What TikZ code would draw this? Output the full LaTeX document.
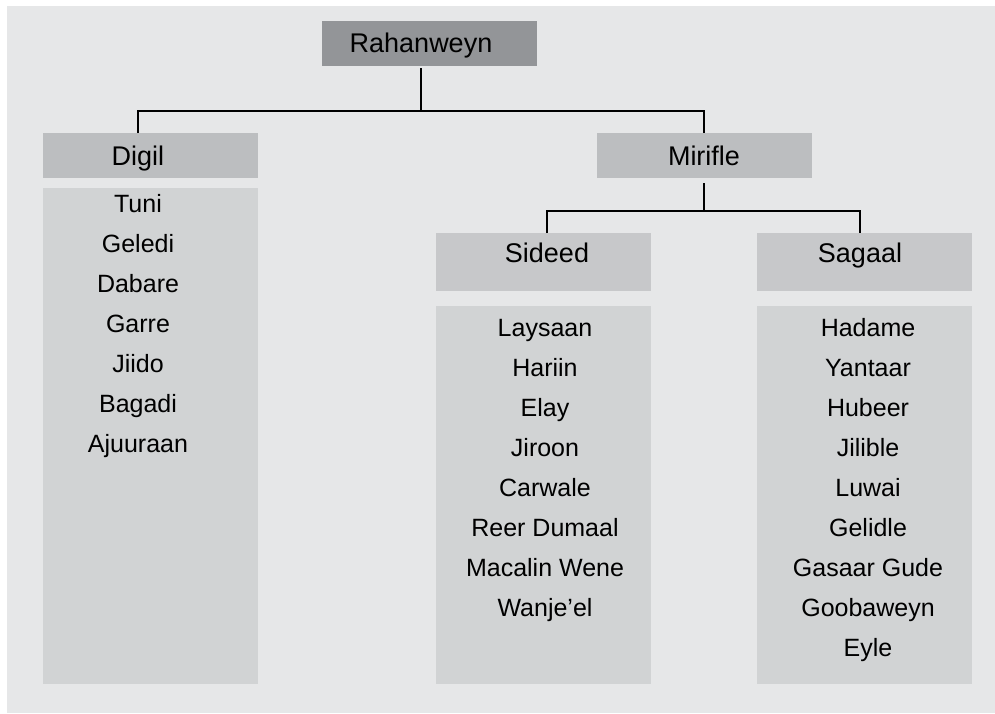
\documentclass[tikz,border=0pt]{standalone}
\usepackage{fontspec}
\setmainfont{Liberation Sans}
\usepackage{tikz}

\definecolor{panelgray}{HTML}{E6E7E8}
\definecolor{topgray}{HTML}{939598}
\definecolor{headgray}{HTML}{BCBEC0}
\definecolor{subgray}{HTML}{C7C8CA}
\definecolor{listgray}{HTML}{D1D3D4}

\begin{document}
\begin{tikzpicture}[x=1pt,y=-1pt,
    box/.style={anchor=north west,inner sep=0pt,outer sep=0pt},
    head/.style={anchor=base,inner sep=0pt,font=\fontsize{27}{32}\selectfont},
    item/.style={anchor=base,inner sep=0pt,font=\fontsize{25}{30}\selectfont},
    conn/.style={line width=2.2pt}]
  \useasboundingbox (0,0) rectangle (995,713);
  % Panel
  \fill[panelgray] (7,6) rectangle (995,713);
  % Top level
  \node[box,fill=topgray,minimum width=215pt,minimum height=45pt] (rahanbox) at (322,21) {};
  \node[head] (rahan) at (421,52) {Rahanweyn};
  % Digil and its list
  \node[box,fill=headgray,minimum width=215pt,minimum height=45pt] (digilbox) at (43,133) {};
  \node[head] (digil) at (138,165) {Digil};
  \node[box,fill=listgray,minimum width=215pt,minimum height=496pt] (digillist) at (43,188) {};
  \foreach \name [count=\i from 0] in {Tuni,Geledi,Dabare,Garre,Jiido,Bagadi,Ajuuraan}
    \node[item] (digil-\i) at (138,212+40*\i) {\name};
  % Mirifle
  \node[box,fill=headgray,minimum width=215pt,minimum height=45pt] (mirifbox) at (597,133) {};
  \node[head] (mirifle) at (704,165) {Mirifle};
  % Sideed and its list
  \node[box,fill=subgray,minimum width=215pt,minimum height=58pt] (sideedbox) at (436,233) {};
  \node[head] (sideed) at (547,262) {Sideed};
  \node[box,fill=listgray,minimum width=215pt,minimum height=378pt] (sideedlist) at (436,306) {};
  \foreach \name [count=\i from 0] in {Laysaan,Hariin,Elay,Jiroon,Carwale,Reer Dumaal,Macalin Wene,Wanje’el}
    \node[item] (sideed-\i) at (545,336+40*\i) {\name};
  % Sagaal and its list
  \node[box,fill=subgray,minimum width=215pt,minimum height=58pt] (sagaalbox) at (757,233) {};
  \node[head] (sagaal) at (860,262) {Sagaal};
  \node[box,fill=listgray,minimum width=215pt,minimum height=378pt] (sagaallist) at (757,306) {};
  \foreach \name [count=\i from 0] in {Hadame,Yantaar,Hubeer,Jilible,Luwai,Gelidle,Gasaar Gude,Goobaweyn,Eyle}
    \node[item] (sagaal-\i) at (868,336+40*\i) {\name};
  % Connectors
  \coordinate (bar) at (0,111);
  \coordinate (subbar) at (0,211);
  \draw[conn] (rahan |- rahanbox.south) ++(0,2) -- (rahan |- bar);
  \draw[conn] (digil |- digilbox.north) -- (digil |- bar) -- (mirifle |- bar) -- (mirifle |- mirifbox.north);
  \draw[conn] (mirifle |- mirifbox.south) ++(0,5) -- (mirifle |- subbar);
  \draw[conn] (sideed |- sideedbox.north) -- (sideed |- subbar) -- (sagaal |- subbar) -- (sagaal |- sagaalbox.north);
\end{tikzpicture}
\end{document}
